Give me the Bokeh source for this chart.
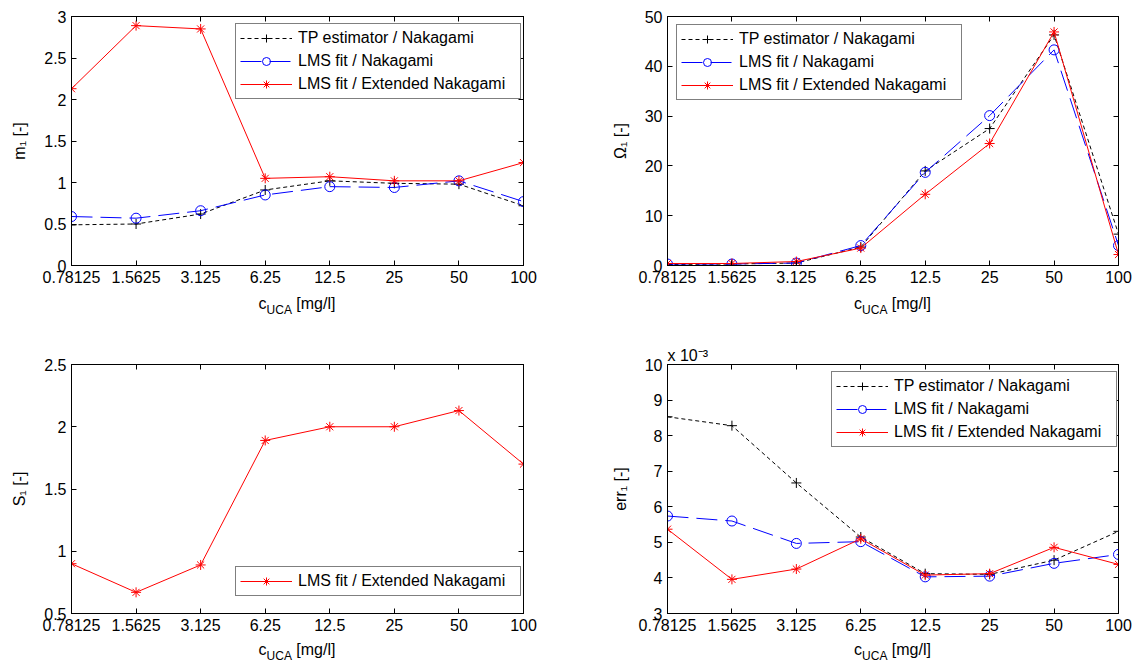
from bokeh.plotting import figure
from bokeh.models import (Range1d, FixedTicker, CustomJSTickFormatter, LinearAxis, LogAxis,
                          Legend, LegendItem, Div, Title)
from bokeh.layouts import column, row
from bokeh.embed import file_html
from bokeh.resources import INLINE

# ---------------- data ----------------
conc = [0.78125, 1.5625, 3.125, 6.25, 12.5, 25, 50, 100]

m_tp = [0.49, 0.50, 0.62, 0.91, 1.02, 0.99, 0.98, 0.72]
m_lms = [0.59, 0.57, 0.66, 0.85, 0.95, 0.94, 1.02, 0.77]
m_ext = [2.13, 2.89, 2.85, 1.05, 1.07, 1.02, 1.02, 1.24]

om_tp = [0.2, 0.3, 0.5, 3.7, 19.0, 27.5, 46.3, 6.3]
om_lms = [0.3, 0.3, 0.5, 4.0, 18.7, 30.1, 43.3, 4.0]
om_ext = [0.4, 0.4, 0.8, 3.5, 14.3, 24.5, 46.9, 2.2]

s_ext = [0.90, 0.67, 0.89, 1.89, 2.00, 2.00, 2.13, 1.70]

# err values in units of 1e-3
err_tp = [8.53, 8.28, 6.67, 5.15, 4.12, 4.10, 4.50, 5.31]
err_lms = [5.74, 5.60, 4.97, 5.02, 4.03, 4.05, 4.41, 4.66]
err_ext = [5.37, 3.96, 4.25, 5.10, 4.08, 4.12, 4.86, 4.38]

lbl_tp = "TP estimator / Nakagami"
lbl_lms = "LMS fit / Nakagami"
lbl_ext = "LMS fit / Extended Nakagami"

FONT = "Liberation Sans"
FS = "16px"

num_fmt = CustomJSTickFormatter(code="return String(Math.round(tick*100000)/100000);")
blank_fmt = CustomJSTickFormatter(code="return '';")


def style_axis(ax, show_labels=True):
    ax.major_tick_in = 5
    ax.major_tick_out = 0
    ax.minor_tick_line_color = None
    ax.axis_line_color = "black"
    ax.major_tick_line_color = "black"
    ax.major_label_text_font = FONT
    ax.major_label_text_font_size = FS
    ax.major_label_text_color = "black"
    ax.major_label_standoff = 5
    ax.axis_label_text_font = FONT
    ax.axis_label_text_font_size = FS
    ax.axis_label_text_font_style = "normal"
    ax.axis_label_text_color = "black"
    ax.axis_label_standoff = 13
    if not show_labels:
        ax.formatter = blank_fmt
        ax.major_label_text_font_size = "1px"
        ax.major_label_text_alpha = 0
        ax.major_label_standoff = 0


def make_fig(w, h, bl, br, bt, bb, ylo, yhi, yticks, ylabel):
    p = figure(width=w, height=h, x_axis_type="log", output_backend="svg",
               toolbar_location=None, min_border_left=bl, min_border_right=br,
               min_border_top=bt, min_border_bottom=bb,
               x_range=Range1d(conc[0], conc[-1]), y_range=Range1d(ylo, yhi))
    p.xgrid.visible = False
    p.ygrid.visible = False
    p.outline_line_color = "black"
    p.background_fill_color = "white"
    p.border_fill_color = "white"
    xt = FixedTicker(ticks=conc)
    yt = FixedTicker(ticks=yticks)
    p.xaxis.ticker = xt
    p.xaxis.formatter = num_fmt
    p.yaxis.ticker = yt
    p.yaxis.formatter = num_fmt
    style_axis(p.xaxis[0])
    style_axis(p.yaxis[0])
    p.yaxis.axis_label = ylabel
    ra = LinearAxis(ticker=yt)
    style_axis(ra, False)
    p.add_layout(ra, "right")
    ta = LogAxis(ticker=xt)
    style_axis(ta, False)
    p.add_layout(ta, "above")
    return p


def x_label_div(width, bl, fw, height, pad_top):
    html = ('<div style="margin-left:%dpx;width:%dpx;text-align:center;padding-top:%dpx;'
            'font-family:\'Liberation Sans\';font-size:16px;color:black;line-height:18px;'
            'white-space:nowrap">c<sub style="font-size:12px;vertical-align:-5px;line-height:0">UCA</sub>'
            ' [mg/l]</div>') % (bl, fw, pad_top)
    return Div(text=html, width=width, height=height, margin=0)


def add_series(p, ys, kind):
    if kind == "tp":
        l = p.line(conc, ys, line_color="black", line_dash="4 3", line_width=1)
        s = p.scatter(conc, ys, marker="cross", size=10, line_color="black", line_width=1)
    elif kind == "lms":
        l = p.line(conc, ys, line_color="blue", line_dash="21 8", line_width=1)
        s = p.scatter(conc, ys, marker="circle", size=10, line_color="blue",
                      fill_color=None, line_width=1)
    else:
        l = p.line(conc, ys, line_color="red", line_width=1)
        s = p.scatter(conc, ys, marker="asterisk", size=10, line_color="red", line_width=1)
    return [l, s]


def add_legend(p, items, location):
    leg = Legend(items=[LegendItem(label=t, renderers=r) for t, r in items],
                 location=location, border_line_color="black", border_line_width=1,
                 background_fill_color="white", background_fill_alpha=1.0,
                 label_text_font=FONT, label_text_font_size=FS, label_text_color="black",
                 glyph_width=52, glyph_height=20, label_height=20, label_width=218,
                 spacing=3, padding=4, label_standoff=6, margin=0)
    p.add_layout(leg, "center")
    return leg


W1, W2 = 560, 574
BL1, BL2 = 71, 107
FW1, FW2 = 452, 451

# top-left
p1 = make_fig(W1, 292, BL1, 37, 16, 27, 0, 3, [0, 0.5, 1, 1.5, 2, 2.5, 3], "m₁ [-]")
r_tp = add_series(p1, m_tp, "tp")
r_lms = add_series(p1, m_lms, "lms")
r_ext = add_series(p1, m_ext, "ext")
add_legend(p1, [(lbl_tp, r_tp), (lbl_lms, r_lms), (lbl_ext, r_ext)], (164, 166))

# top-right
p2 = make_fig(W2, 292, BL2, 16, 16, 27, 0, 50, [0, 10, 20, 30, 40, 50], "Ω₁ [-]")
r_tp = add_series(p2, om_tp, "tp")
r_lms = add_series(p2, om_lms, "lms")
r_ext = add_series(p2, om_ext, "ext")
add_legend(p2, [(lbl_tp, r_tp), (lbl_lms, r_lms), (lbl_ext, r_ext)], (9, 165))

# bottom-left
p3 = make_fig(W1, 310, BL1, 37, 34, 27, 0.5, 2.5, [0.5, 1, 1.5, 2, 2.5], "S₁ [-]")
r_ext = add_series(p3, s_ext, "ext")
add_legend(p3, [(lbl_ext, r_ext)], (164, 17))

# bottom-right
p4 = make_fig(W2, 310, BL2, 16, 34, 27, 3, 10, [3, 4, 5, 6, 7, 8, 9, 10], "err₁ [-]")
r_tp = add_series(p4, err_tp, "tp")
r_lms = add_series(p4, err_lms, "lms")
r_ext = add_series(p4, err_ext, "ext")
add_legend(p4, [(lbl_tp, r_tp), (lbl_lms, r_lms), (lbl_ext, r_ext)], (164, 166))
p4.title = Title(text="x 10⁻³", align="left", offset=0, standoff=2,
                 text_font=FONT, text_font_size=FS, text_font_style="normal",
                 text_color="black")

d1 = x_label_div(W1, BL1, FW1, 38, 3)
d2 = x_label_div(W2, BL2, FW2, 38, 3)
d3 = x_label_div(W1, BL1, FW1, 20, 1)
d4 = x_label_div(W2, BL2, FW2, 20, 1)

layout = column(row(p1, p2), row(d1, d2), row(p3, p4), row(d3, d4))
open("out.html", "w").write(file_html(layout, INLINE))
